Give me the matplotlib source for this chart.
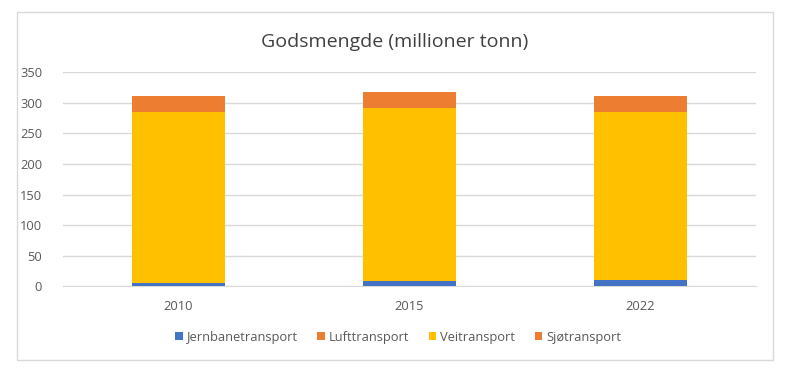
import numpy as np
import matplotlib.pyplot as plt
from matplotlib.patches import Rectangle

plt.rcParams['font.family'] = ['Open Sans', 'DejaVu Sans']

years = ["2010", "2015", "2022"]
series = ["Jernbanetransport", "Lufttransport", "Veitransport", "Sjøtransport"]
jernbane = [5, 9, 10]
luft = [0.2, 0.2, 0.2]
vei = [280, 282, 274]
sjo = [25, 27, 27]
colors = ["#4472C4", "#ED7D31", "#FFC000", "#ED7D31"]

fig = plt.figure(figsize=(8, 3.77), dpi=100)
fig.patches.append(Rectangle((17 / 800, 1 - 360 / 377), 756 / 800, 348 / 377,
                             transform=fig.transFigure, fill=False,
                             edgecolor="#D9D9D9", linewidth=1))

ax = fig.add_axes([63 / 800, 1 - 286.3 / 377, 693 / 800, 214.2 / 377])

x = np.arange(len(years))
bottom = np.zeros(len(years))
for name, vals, c in zip(series, [jernbane, luft, vei, sjo], colors):
    ax.bar(x, vals, width=0.4, bottom=bottom, color=c, label=name, zorder=3)
    bottom += np.array(vals)

ax.set_xlim(-0.5, 2.5)
ax.set_ylim(0, 350)
ax.set_yticks(range(0, 351, 50))
ax.set_xticks(x)
ax.set_xticklabels(years)
ax.yaxis.grid(True, color="#D9D9D9", linewidth=1, zorder=0)
for s in ["top", "right", "left"]:
    ax.spines[s].set_visible(False)
ax.spines["bottom"].set_color("#D9D9D9")
ax.tick_params(axis="both", length=0, labelsize=9.3, labelcolor="#595959")
ax.tick_params(axis="y", pad=15)
ax.tick_params(axis="x", pad=10)

fig.text(395 / 800, 1 - 42 / 377, "Godsmengde (millioner tonn)", ha="center",
         va="center", fontsize=14, color="#404040")

fig.legend(loc="center", bbox_to_anchor=(398 / 800, 1 - 337 / 377), ncol=4,
           frameon=False, fontsize=9.3, labelcolor="#595959", handlelength=0.6,
           handleheight=0.6, handletextpad=0.3, columnspacing=1.5)

fig.savefig("out.png", dpi=100)
